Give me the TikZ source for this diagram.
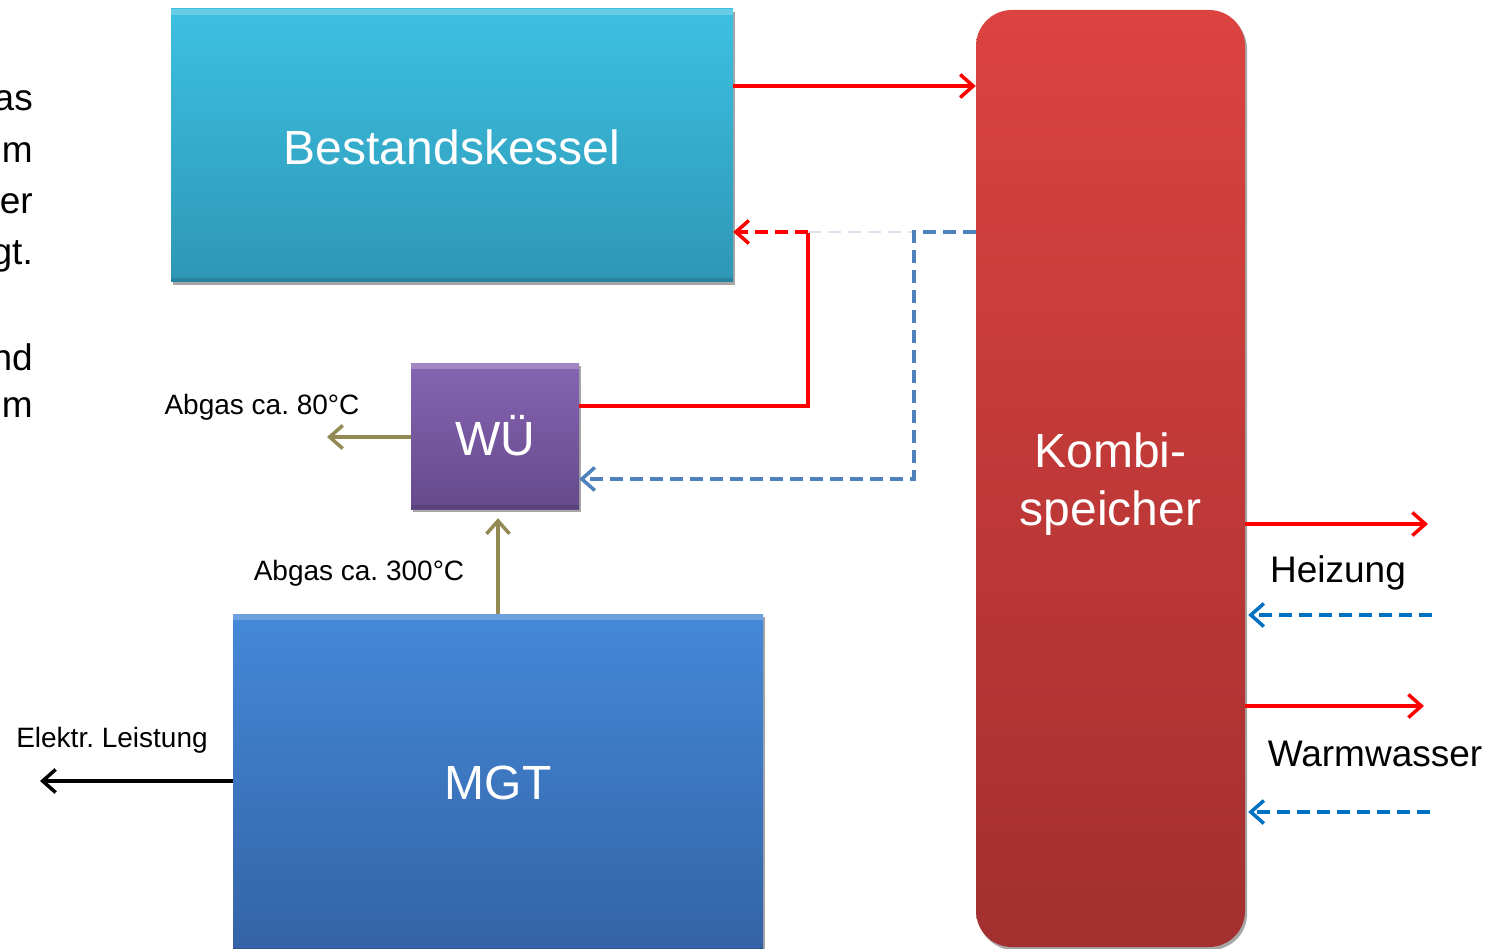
\documentclass[tikz,border=0pt]{standalone}
\usepackage{fontspec}
\setmainfont{Liberation Sans}
\usetikzlibrary{arrows.meta,shadows}
\frenchspacing
\definecolor{cyanT}{HTML}{3DC0E2}
\definecolor{cyanB}{HTML}{2E97B5}
\definecolor{purT}{HTML}{8664B2}
\definecolor{purB}{HTML}{654A8C}
\definecolor{bluT}{HTML}{4489D8}
\definecolor{bluB}{HTML}{3463A6}
\definecolor{redT}{HTML}{DC4340}
\definecolor{redB}{HTML}{A32F2F}
\definecolor{olive}{HTML}{938953}
\definecolor{flowblue}{HTML}{4F81BD}
\definecolor{retblue}{HTML}{0070C0}
\definecolor{faint}{HTML}{DCE3EC}
\tikzset{
  blockbox/.style={rectangle, inner sep=0pt, text=white,
    font=\fontsize{48}{56}\selectfont,
    drop shadow={shadow xshift=2pt, shadow yshift=-3pt, opacity=.35, fill=black},
    path picture={
      \fill[white,opacity=.22] (path picture bounding box.north west) rectangle ([yshift=-6pt]path picture bounding box.north east);
      \fill[black,opacity=.12] (path picture bounding box.south west) rectangle ([yshift=4pt]path picture bounding box.south east);
    }},
  tip/.style={-{Straight Barb[length=13pt,width=23pt]}},
  hot/.style={tip, draw=red, line width=3.5pt},
  hotline/.style={draw=red, line width=3.5pt},
  cold/.style={tip, draw=flowblue, line width=3.5pt, dash pattern=on 13pt off 7pt},
  coldret/.style={tip, draw=retblue, line width=3.5pt, dash pattern=on 13pt off 7pt},
  gas/.style={tip, draw=olive, line width=3.5pt},
  lbl/.style={font=\fontsize{28}{32}\selectfont, inner sep=0pt},
  biglbl/.style={font=\fontsize{37}{42}\selectfont, inner sep=0pt},
  boxtext/.style={text=white, inner sep=0pt, align=center, font=\fontsize{48}{58}\selectfont},
}
\begin{document}
\begin{tikzpicture}[x=1pt,y=-1pt]
\path[use as bounding box, clip] (0,0) rectangle (1495,949);
\fill[white] (0,0) rectangle (1495,949);

% left cut-off text fragments
\node[biglbl, anchor=east] (f1) at (33,101) {as};
\node[biglbl, anchor=east] (f2) at (33,153) {m};
\node[biglbl, anchor=east] (f3) at (33,204) {er};
\node[biglbl, anchor=east] (f4) at (33,256) {gt.};
\node[biglbl, anchor=east] (f5) at (33,357) {nd};
\node[biglbl, anchor=east] (f6) at (33,408) {m};

% blocks
\node[blockbox, top color=cyanT, bottom color=cyanB, minimum width=562pt, minimum height=273pt] (bk) at (452,145.5) {};
\node[boxtext] (bkt) at ([yshift=-2pt]bk.center) {Bestandskessel};
\node[blockbox, top color=purT, bottom color=purB, minimum width=168pt, minimum height=146pt] (wu) at (495,436) {WÜ};
\node[blockbox, top color=bluT, bottom color=bluB, minimum width=530pt, minimum height=338pt] (mgt) at (498,783) {MGT};
\node[rectangle, rounded corners=36pt, inner sep=0pt, top color=redT, bottom color=redB,
  drop shadow={shadow xshift=2pt, shadow yshift=-3pt, opacity=.35, fill=black},
  minimum width=269pt, minimum height=937pt] (ks) at (1110.5,478.5) {};
\node[boxtext] (kst) at ([yshift=-6pt]ks.center) {Kombi-\\speicher};

% level coordinates
\coordinate (y86) at (0,86);
\coordinate (y232) at (0,232);
\coordinate (y406) at (0,406);
\coordinate (y437) at (0,437);
\coordinate (y479) at (0,479);
\coordinate (jr) at (808,232);
\coordinate (jb) at (914,232);
\coordinate (gasout) at (327,437);
\coordinate (gasup) at (498,0);
\coordinate (elout) at (40,781);
\coordinate (h1) at (1428,524);
\coordinate (h2) at (1432,615);
\coordinate (w1) at (1424,706);
\coordinate (w2) at (1430,812);

% flows
\draw[hot] (bk.east |- y86) -- (ks.west |- y86);
\draw[hotline] (wu.east |- y406) -| (jr);
\draw[hot, dash pattern=on 13pt off 7pt] (jr) -- (bk.east |- y232);
\draw[faint, line width=2pt, dash pattern=on 13pt off 7pt] (jr) -- (jb);
\draw[cold] (ks.west |- y232) -- (jb) -- (jb |- y479) -- (wu.east |- y479);
\draw[gas] (wu.west |- y437) -- (gasout);
\draw[gas, shorten >=9pt] (mgt.north -| gasup) -- (wu.south -| gasup);
\draw[tip, line width=3.5pt, draw=black] (mgt.west |- elout) -- (elout);

\draw[hot] (ks.east |- h1) -- (h1);
\draw[coldret] (h2) -- ([xshift=3pt]ks.east |- h2);
\draw[hot] (ks.east |- w1) -- (w1);
\draw[coldret] (w2) -- ([xshift=3pt]ks.east |- w2);

% labels
\node[lbl] (l1) at (262,407) {Abgas ca. 80°C};
\node[lbl] (l2) at (359,573) {Abgas ca. 300°C};
\node[lbl] (l3) at (112,740) {Elektr. Leistung};
\node[biglbl] (l4) at (1338,573) {Heizung};
\node[biglbl] (l5) at (1375,754) {Warmwasser};
\end{tikzpicture}
\end{document}
